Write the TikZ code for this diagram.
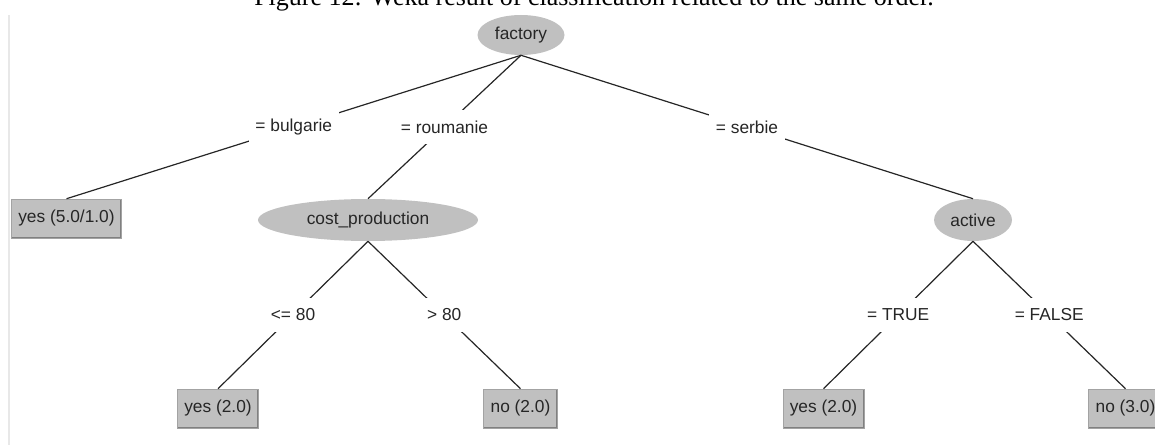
\documentclass[tikz,border=0pt]{standalone}
\usepackage{fontspec}
\setmainfont{Liberation Serif}
\setsansfont{Liberation Sans}
\usetikzlibrary{shapes.geometric}
\definecolor{wekagray}{HTML}{C0C0C0}
\definecolor{wekashade}{HTML}{808080}
\definecolor{panelline}{HTML}{E8E8E8}

\begin{document}
\begin{tikzpicture}[x=0.75pt, y=-0.75pt,
    every node/.style={font=\sffamily\fontsize{13}{15}\selectfont, text=black!85},
    attrnode/.style={ellipse, fill=wekagray, inner sep=0pt},
    leafnode/.style={rectangle, fill=wekagray, draw=wekagray!85!black, line width=0.4pt,
        inner xsep=5.25pt, inner ysep=0pt, minimum height=29.25pt,
        path picture={\draw[wekashade, line width=2.2pt] (path picture bounding box.south west)
            -- (path picture bounding box.south east) -- (path picture bounding box.north east);}},
    condlabel/.style={fill=white, inner xsep=5pt, minimum height=26pt},
    branch/.style={line width=0.9pt, black!85}]
    \useasboundingbox (0,0) rectangle (1155,445);
    \draw[panelline, line width=1pt] (9,15) -- (9,445);
    \node[anchor=base, font=\rmfamily\fontsize{19.5}{22}\selectfont, text=black] (caption) at (594,5.5)
        {Figure 12: Weka result of classification related to the same order.};

    % inner nodes
    \node[attrnode, minimum width=65.25pt, minimum height=30pt] (factory) at (521,35) {factory};
    \node[attrnode, minimum width=165pt, minimum height=31.5pt] (cost) at (368,220) {cost\_production};
    \node[attrnode, minimum width=58.5pt, minimum height=31.5pt] (active) at (973,220) {active};

    % leaves
    \node[leafnode] (bulgyes) at (66.5,218.5) {yes (5.0/1.0)};
    \node[leafnode] (lowyes) at (218,408.5) {yes (2.0)};
    \node[leafnode] (highno) at (520.5,408.5) {no (2.0)};
    \node[leafnode] (trueyes) at (823.5,408.5) {yes (2.0)};
    \node[leafnode] (falseno) at (1125.5,408.5) {no (3.0)};

    \draw[branch] (factory.south) -- node[condlabel]{= bulgarie} (bulgyes.north);
    \draw[branch] (factory.south) -- node[condlabel]{= roumanie} (cost.north);
    \draw[branch] (factory.south) -- node[condlabel]{= serbie} (active.north);
    \draw[branch] (cost.south) -- node[condlabel]{<= 80} (lowyes.north);
    \draw[branch] (cost.south) -- node[condlabel]{> 80} (highno.north);
    \draw[branch] (active.south) -- node[condlabel]{= TRUE} (trueyes.north);
    \draw[branch] (active.south) -- node[condlabel]{= FALSE} (falseno.north);

\end{tikzpicture}
\end{document}
